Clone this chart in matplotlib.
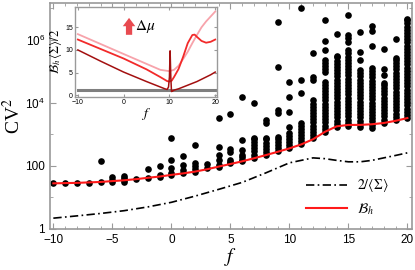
import numpy as np
import matplotlib
matplotlib.use('Agg')
import matplotlib.pyplot as plt
from matplotlib.lines import Line2D

plt.rcParams['mathtext.fontset'] = 'stix'
plt.rcParams['font.family'] = 'Liberation Sans'

# scatter data: log10(CV^2) for each integer f
f_vals = list(range(-10, 21))
log_cv2 = [
    [1.45],
    [1.46],
    [1.46],
    [1.47],
    [1.49, 2.16],
    [1.49, 1.56, 1.64],
    [1.49, 1.56, 1.61, 1.68],
    [1.58],
    [1.61, 1.90],
    [1.66, 1.72, 2.00],
    [1.70, 1.78, 1.94, 2.19, 2.89],
    [1.76, 1.88, 2.03, 2.32],
    [1.81, 1.90, 2.00, 2.09, 2.66],
    [1.93, 2.05],
    [1.98, 2.04, 2.18, 2.36, 2.60, 3.52],
    [2.08, 2.13, 2.19, 2.45, 2.54, 3.65],
    [2.16, 2.20, 2.28, 2.34, 2.51, 2.83, 4.18],
    [2.26, 2.36, 2.46, 2.56, 2.66, 2.76, 2.86, 2.89, 4.00],
    [2.34, 2.44, 2.54, 2.64, 2.74, 2.84, 2.89, 3.36, 3.46],
    [2.46, 2.56, 2.66, 2.76, 2.86, 2.92, 3.68, 3.78, 5.15, 6.56],
    [2.56, 2.66, 2.76, 2.86, 2.96, 3.04, 3.23, 3.72, 4.18, 4.66],
    [2.68, 2.78, 2.88, 2.98, 3.08, 3.18, 3.28, 3.36, 4.30, 4.73, 7.00],
    [2.88, 2.98, 3.08, 3.18, 3.28, 3.38, 3.48, 3.58, 3.68, 3.78, 3.88, 3.98,
     4.08, 4.73, 4.83, 5.58],
    [3.08, 3.18, 3.28, 3.38, 3.48, 3.58, 3.68, 3.78, 3.88, 3.98, 4.08, 4.18,
     4.28, 4.38, 4.48, 4.58, 4.66, 4.98, 5.08, 5.18, 5.27, 5.37, 5.68, 5.97,
     6.63],
    [3.24, 3.34, 3.44, 3.54, 3.64, 3.74, 3.84, 3.94, 4.04, 4.14, 4.24, 4.34,
     4.44, 4.54, 4.64, 4.74, 4.84, 4.94, 5.04, 5.14, 5.24, 5.34, 5.44, 5.50,
     6.19],
    [3.27, 3.37, 3.47, 3.57, 3.67, 3.77, 3.87, 3.97, 4.07, 4.17, 4.27, 4.37,
     4.47, 4.57, 4.67, 4.77, 4.87, 4.97, 5.07, 5.17, 5.27, 5.37, 5.47, 5.57,
     5.67, 5.94, 6.05, 6.16, 6.79],
    [3.24, 3.34, 3.44, 3.54, 3.64, 3.74, 3.84, 3.94, 4.04, 4.14, 4.24, 4.34,
     4.44, 4.54, 4.64, 4.74, 4.84, 4.94, 5.04, 5.37, 5.62, 6.25],
    [3.21, 3.31, 3.41, 3.51, 3.61, 3.71, 3.81, 3.91, 4.01, 4.11, 4.21, 4.31,
     4.41, 4.51, 4.61, 4.71, 4.81, 4.91, 5.01, 5.11, 5.81, 6.29, 6.44],
    [3.37, 3.47, 3.57, 3.67, 3.77, 3.87, 3.97, 4.07, 4.17, 4.27, 4.37, 4.47,
     4.57, 4.63, 4.89, 5.08, 5.71],
    [3.46, 3.56, 3.66, 3.76, 3.86, 3.96, 4.06, 4.16, 4.26, 4.36, 4.46, 4.56,
     4.66, 4.76, 4.86, 4.96, 5.06, 5.16, 5.26, 5.36, 5.43, 6.03],
    [3.52, 3.62, 3.72, 3.82, 3.92, 4.02, 4.12, 4.22, 4.32, 4.42, 4.52, 4.62,
     4.72, 4.82, 4.92, 5.02, 5.12, 5.22, 5.32, 5.42, 5.52, 5.62, 5.72, 5.82,
     5.92, 6.02, 6.12, 6.22, 6.32, 6.42, 6.52, 6.62, 6.67],
]

# B_h curve and 2/<Sigma> curve at integer f
bh_vals = [28, 28.5, 29, 30, 31, 33, 35, 38, 42, 46, 52, 58, 66, 78, 95, 115,
           140, 175, 220, 280, 360, 480, 700, 1200, 1800, 2000, 2000, 2100,
           2300, 2700, 3300]
sigma_f = [-10, -8, -6, -4, -2, 0, 2, 4, 6, 8, 10, 12, 13, 14, 15, 16, 17,
           18, 19, 20]
sigma_vals = [2.2, 2.6, 3.1, 3.8, 5.0, 7.0, 11, 18, 30, 60, 125, 180, 170,
              150, 135, 135, 150, 180, 215, 260]

# inset curves
pink_f = [-10, 0, 8, 10, 11, 12, 13, 14, 15, 16, 17, 18, 19, 20]
pink_y = [13.5, 9.1, 5.6, 5.3, 5.6, 6.5, 8.0, 9.6, 11.5, 13.3, 15.0, 16.3,
          17.4, 18.5]
mid_f = [-10, 0, 5, 8, 9.5, 10, 10.5, 11, 12, 13, 14, 15, 15.5, 16, 17, 18,
         19, 20]
mid_y = [12.3, 8.1, 5.7, 4.0, 3.1, 3.0, 3.2, 4.0, 5.8, 8.5, 11.5, 13.3, 13.4,
         12.9, 12.0, 11.6, 11.8, 12.3]
dark_f = [-10, -5, 0, 5, 8, 9, 9.5, 9.8, 10.0, 10.15, 10.3, 10.45, 10.7, 11,
          12, 13, 14, 15, 16, 17, 18, 19, 20]
dark_y = [10.0, 7.5, 5.1, 3.0, 1.8, 1.4, 1.25, 1.8, 4.0, 9.8, 4.0, 0.8, 0.9,
          1.1, 1.4, 1.8, 2.2, 2.6, 3.0, 3.5, 4.0, 4.5, 5.1]
gray_f = [-10, 20]
gray_y = [1.2, 1.2]

spine_col = '#9a9a9a'

fig = plt.figure(figsize=(4.15, 2.7), dpi=100)
ax = fig.add_axes([0.120, 0.152, 0.873, 0.837])

for f, vals in zip(f_vals, log_cv2):
    ax.scatter([f] * len(vals), 10 ** np.array(vals), s=23, color='black',
               linewidths=0, zorder=2)
ax.plot(f_vals, bh_vals, color='#ff1a1a', lw=1.5, zorder=3)
ax.plot(sigma_f, sigma_vals, color='black', lw=1.2, ls=(0, (5, 2, 1, 2)),
        zorder=3)

ax.set_yscale('log')
ax.set_xlim(-10.3, 20.4)
ax.set_ylim(1, 10 ** 7.17)
ax.set_xticks([-10, -5, 0, 5, 10, 15, 20])
ax.set_xticklabels(['\u221210', '\u22125', '0', '5', '10', '15', '20'])
ax.set_xticks(range(-10, 21), minor=True)
ax.set_yticks([1, 100, 1e4, 1e6])
ax.set_yticklabels(['1', '100', r'$\mathregular{10^4}$',
                    r'$\mathregular{10^6}$'])
ax.set_yticks([10 ** k for k in range(0, 8)], minor=True)
ax.yaxis.set_minor_formatter(plt.NullFormatter())
ax.tick_params(which='both', direction='in', top=True, right=True,
               color=spine_col, labelsize=8.5)
ax.tick_params(which='major', length=4)
ax.tick_params(which='minor', length=2)
for sp in ax.spines.values():
    sp.set_color(spine_col)
    sp.set_linewidth(1.2)

ax.set_ylabel(r'CV$^2$', fontsize=14, family='Liberation Serif')
ax.yaxis.set_label_coords(-0.072, 0.5)
ax.set_xlabel(r'$f$', fontsize=14, labelpad=0)

handles = [Line2D([], [], color='black', lw=1.2, ls=(0, (5, 2, 1, 2))),
           Line2D([], [], color='#ff1a1a', lw=1.5)]
ax.legend(handles, [r'$2/\langle\Sigma\rangle$', r'$\mathcal{B}_h$'],
          loc='lower right', bbox_to_anchor=(0.935, 0.055), frameon=False,
          fontsize=10, handlelength=3.0, labelspacing=0.45, borderpad=0,
          borderaxespad=0, handletextpad=0.7)

# inset
ins = fig.add_axes([0.181, 0.641, 0.342, 0.333])
ins.plot(gray_f, gray_y, color='#7f7f7f', lw=2.2)
ins.plot(pink_f, pink_y, color='#f7a3ab', lw=1.3)
ins.plot(mid_f, mid_y, color='#f22a2a', lw=1.3)
ins.plot(dark_f, dark_y, color='#a31010', lw=1.1)
ins.set_xlim(-10.6, 20.4)
ins.set_ylim(-0.4, 19.5)
ins.set_xticks([-10, 0, 10, 20])
ins.set_yticks([0, 5, 10, 15])
ins.tick_params(direction='in', labelsize=5, length=2, color=spine_col,
                pad=1.5, top=True, right=True)
for sp in ins.spines.values():
    sp.set_color(spine_col)
    sp.set_linewidth(1.0)
ins.set_ylabel(r'$\mathcal{B}_h\,\langle\Sigma\rangle/2$', fontsize=9,
               labelpad=1)
ins.set_xlabel(r'$f$', fontsize=10, labelpad=0)
ins.annotate('', xy=(0.38, 0.91), xytext=(0.38, 0.66),
             xycoords='axes fraction',
             arrowprops=dict(arrowstyle='simple,head_width=0.9,head_length=0.6,tail_width=0.45',
                             color='#e84a50', lw=0))
ins.text(0.42, 0.78, r'$\Delta\mu$', transform=ins.transAxes, fontsize=11,
         va='center', ha='left')

fig.savefig('out.png', dpi=100)
